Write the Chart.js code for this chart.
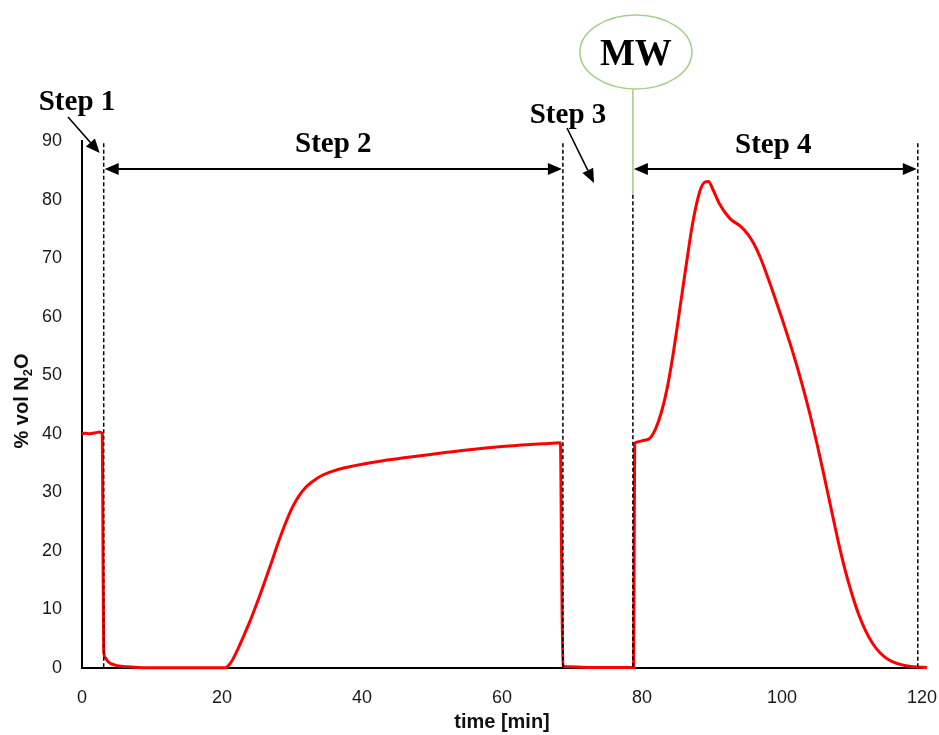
<!DOCTYPE html>
<html>
<head>
<meta charset="utf-8">
<title>N2O concentration during the four process steps</title>
<script src="https://cdn.jsdelivr.net/npm/chart.js@4.4.1/dist/chart.umd.min.js"></script>
<style>
  html, body { margin: 0; padding: 0; background: #fff; }
  #wrap { width: 939px; height: 735px; position: relative; }
</style>
</head>
<body>
<div id="wrap"><canvas id="c" width="939" height="735"></canvas></div>
<script>
// Measured N2O concentration (% vol) against time (min)
const TIME = [
  0, 0.5, 1.0, 1.5, 2.0, 2.5, 2.9, 3.0, 3.1, 3.3, 3.7, 4.2, 5.0, 6.4, 8, 12, 16, 20.5,
  21.0, 21.6, 22.3, 23.0, 24.0, 25.0, 26.0, 27.0, 28.0, 29.0, 30.0, 31.0, 32.0, 33.0,
  34.0, 35.5, 37.5, 40.0, 43.0, 46.0, 50.0, 54.0, 58.0, 62.0, 66.0, 68.35,
  68.5, 68.7, 69.5, 72, 76, 78.8,
  78.95, 79.3, 80.3, 81.1, 82.0, 82.8, 83.6, 84.3, 85.0, 85.7, 86.4, 87.1, 87.8, 88.4,
  89.0, 89.5, 90.1, 91.1, 92.6, 94.0, 95.1, 96.0, 96.9, 98.0, 99.0, 100.0, 101.0,
  102.0, 103.0, 104.0, 105.0, 106.0, 107.0, 108.0, 109.0, 110.0, 111.0, 112.0, 113.0,
  114.0, 115.0, 116.4, 118.7, 120.7
];
const N2O = [
  40.0, 40.1, 40.0, 40.1, 40.2, 40.3, 40.0, 20.0, 3.0, 1.8, 1.1, 0.7, 0.4, 0.2, 0.1, 0.05, 0.05, 0.05,
  0.5, 1.6, 3.3, 5.2, 8.0, 11.1, 14.4, 17.8, 21.3, 24.5, 27.3, 29.4, 30.9, 31.9,
  32.7, 33.5, 34.2, 34.8, 35.4, 35.9, 36.5, 37.1, 37.6, 38.0, 38.3, 38.45,
  20.0, 0.4, 0.2, 0.1, 0.1, 0.1,
  38.3, 38.6, 38.9, 39.2, 41.0, 43.8, 47.8, 52.5, 58.0, 63.8, 69.5, 75.0, 79.3, 81.9,
  83.0, 83.1, 81.8, 79.2, 76.7, 75.5, 74.1, 72.4, 70.1, 66.6, 63.2, 59.7, 56.0,
  52.1, 47.9, 43.3, 38.3, 32.9, 27.3, 21.8, 16.8, 12.6, 9.0, 6.2, 4.1,
  2.6, 1.6, 0.8, 0.2, 0.1
];

// Axis ticks
const X_TICKS = [0, 20, 40, 60, 80, 100, 120];
const Y_TICKS = [0, 10, 20, 30, 40, 50, 60, 70, 80, 90];

// Process step boundaries (min): end of step 1, end of step 2, MW switch-on, end of step 4
const STEP_BOUNDS = [3.1, 68.7, 78.7, 119.4];
const STEP_NAMES = ['Step 1', 'Step 2', 'Step 3', 'Step 4'];
const MW_LABEL = 'MW';

const points = TIME.map((t, i) => ({ x: t, y: N2O[i] }));

function arrowHead(ctx, x, y, dir) {
  // dir = -1 points left, +1 points right; tip at (x, y)
  ctx.beginPath();
  ctx.moveTo(x, y);
  ctx.lineTo(x - dir * 14, y - 6);
  ctx.lineTo(x - dir * 14, y + 6);
  ctx.closePath();
  ctx.fill();
}

function slantArrow(ctx, x0, y0, x1, y1) {
  const ang = Math.atan2(y1 - y0, x1 - x0);
  const L = 14, W = 6;
  const bx = x1 - L * Math.cos(ang), by = y1 - L * Math.sin(ang);
  ctx.beginPath();
  ctx.moveTo(x0, y0);
  ctx.lineTo(bx, by);
  ctx.stroke();
  ctx.beginPath();
  ctx.moveTo(x1, y1);
  ctx.lineTo(bx + W * Math.sin(ang), by - W * Math.cos(ang));
  ctx.lineTo(bx - W * Math.sin(ang), by + W * Math.cos(ang));
  ctx.closePath();
  ctx.fill();
}

const stepAnnotations = {
  id: 'stepAnnotations',
  afterDraw(chart) {
    const ctx = chart.ctx;
    const xs = chart.scales.x, ys = chart.scales.y;
    const bx = STEP_BOUNDS.map(v => xs.getPixelForValue(v));
    const yBottom = ys.getPixelForValue(0);
    const yTop = ys.getPixelForValue(89.6);
    const yArrow = ys.getPixelForValue(85.2);
    const yGreenEnd = ys.getPixelForValue(80.8);

    ctx.save();
    // dashed step boundaries
    ctx.strokeStyle = '#000';
    ctx.lineWidth = 1.5;
    ctx.setLineDash([4, 2.5]);
    [0, 1, 3].forEach(i => {
      ctx.beginPath();
      ctx.moveTo(bx[i], yTop);
      ctx.lineTo(bx[i], yBottom);
      ctx.stroke();
    });
    ctx.beginPath();
    ctx.moveTo(bx[2], yGreenEnd);
    ctx.lineTo(bx[2], yBottom);
    ctx.stroke();
    ctx.setLineDash([]);

    // MW marker: ellipse and green stem
    const mwX = bx[2] + 3, mwY = 52;
    ctx.strokeStyle = '#a8d08d';
    ctx.lineWidth = 1.6;
    ctx.beginPath();
    ctx.ellipse(mwX, mwY, 56, 37, 0, 0, Math.PI * 2);
    ctx.stroke();
    ctx.beginPath();
    ctx.moveTo(bx[2], mwY + 37);
    ctx.lineTo(bx[2], yGreenEnd);
    ctx.stroke();

    // double arrows for steps 2 and 4
    ctx.strokeStyle = '#000';
    ctx.fillStyle = '#000';
    ctx.lineWidth = 2;
    [[bx[0], bx[1]], [bx[2], bx[3]]].forEach(([a, b]) => {
      ctx.beginPath();
      ctx.moveTo(a + 6, yArrow);
      ctx.lineTo(b - 6, yArrow);
      ctx.stroke();
      arrowHead(ctx, a + 1, yArrow, -1);
      arrowHead(ctx, b - 1, yArrow, 1);
    });

    // pointer arrows for steps 1 and 3
    ctx.lineWidth = 1.6;
    slantArrow(ctx, 68, 117, bx[0] - 4, 153);
    slantArrow(ctx, 567, 128, 594, 183);

    // step labels
    ctx.font = 'bold 29px "Liberation Serif", serif';
    ctx.textAlign = 'center';
    ctx.textBaseline = 'alphabetic';
    ctx.fillText(STEP_NAMES[0], 77, 110);
    ctx.fillText(STEP_NAMES[1], (bx[0] + bx[1]) / 2, 152);
    ctx.fillText(STEP_NAMES[2], 568, 123);
    ctx.fillText(STEP_NAMES[3], (bx[2] + bx[3]) / 2 - 2, 153);
    ctx.font = 'bold 37px "Liberation Serif", serif';
    ctx.fillText(MW_LABEL, mwX, mwY + 13);

    // y-axis title with subscript
    const big = 'bold 20px "Liberation Sans", sans-serif';
    const small = 'bold 13px "Liberation Sans", sans-serif';
    const parts = [['% vol N', big, 0], ['2', small, 4], ['O', big, 0]];
    let total = 0;
    parts.forEach(p => { ctx.font = p[1]; total += ctx.measureText(p[0]).width; });
    ctx.translate(21, 401);
    ctx.rotate(-Math.PI / 2);
    ctx.textAlign = 'left';
    ctx.fillStyle = '#111';
    let cx = -total / 2;
    parts.forEach(p => {
      ctx.font = p[1];
      ctx.fillText(p[0], cx, 7 + p[2]);
      cx += ctx.measureText(p[0]).width;
    });
    ctx.restore();
  }
};

new Chart(document.getElementById('c'), {
  type: 'line',
  data: {
    datasets: [{
      data: points,
      borderColor: '#ff0000',
      borderWidth: 3,
      pointRadius: 0,
      cubicInterpolationMode: 'monotone',
      fill: false,
      clip: false
    }]
  },
  options: {
    responsive: false,
    animation: false,
    devicePixelRatio: 1,
    layout: { padding: { top: 141, right: 17, bottom: 0, left: 0 } },
    plugins: { legend: { display: false }, tooltip: { enabled: false } },
    scales: {
      x: {
        type: 'linear',
        min: 0, max: 120,
        afterBuildTicks: s => { s.ticks = X_TICKS.map(v => ({ value: v })); },
        afterFit: s => { s.height = 735 - 668; s.paddingRight = 0; s.paddingLeft = 0; },
        grid: { display: false },
        border: { display: true, color: '#000', width: 2 },
        ticks: { padding: 11, color: '#1a1a1a', font: { family: '"Liberation Sans", sans-serif', size: 18 } },
        title: { display: true, text: 'time [min]', color: '#111', padding: { top: 0, bottom: 1 },
                 font: { family: '"Liberation Sans", sans-serif', size: 20, weight: 'bold' } }
      },
      y: {
        min: 0, max: 90,
        afterBuildTicks: s => { s.ticks = Y_TICKS.map(v => ({ value: v })); },
        afterFit: s => { s.width = 82; },
        grid: { display: false },
        border: { display: true, color: '#000', width: 2 },
        ticks: { padding: 12, color: '#1a1a1a', font: { family: '"Liberation Sans", sans-serif', size: 18 } }
      }
    }
  },
  plugins: [stepAnnotations]
});
</script>
</body>
</html>
